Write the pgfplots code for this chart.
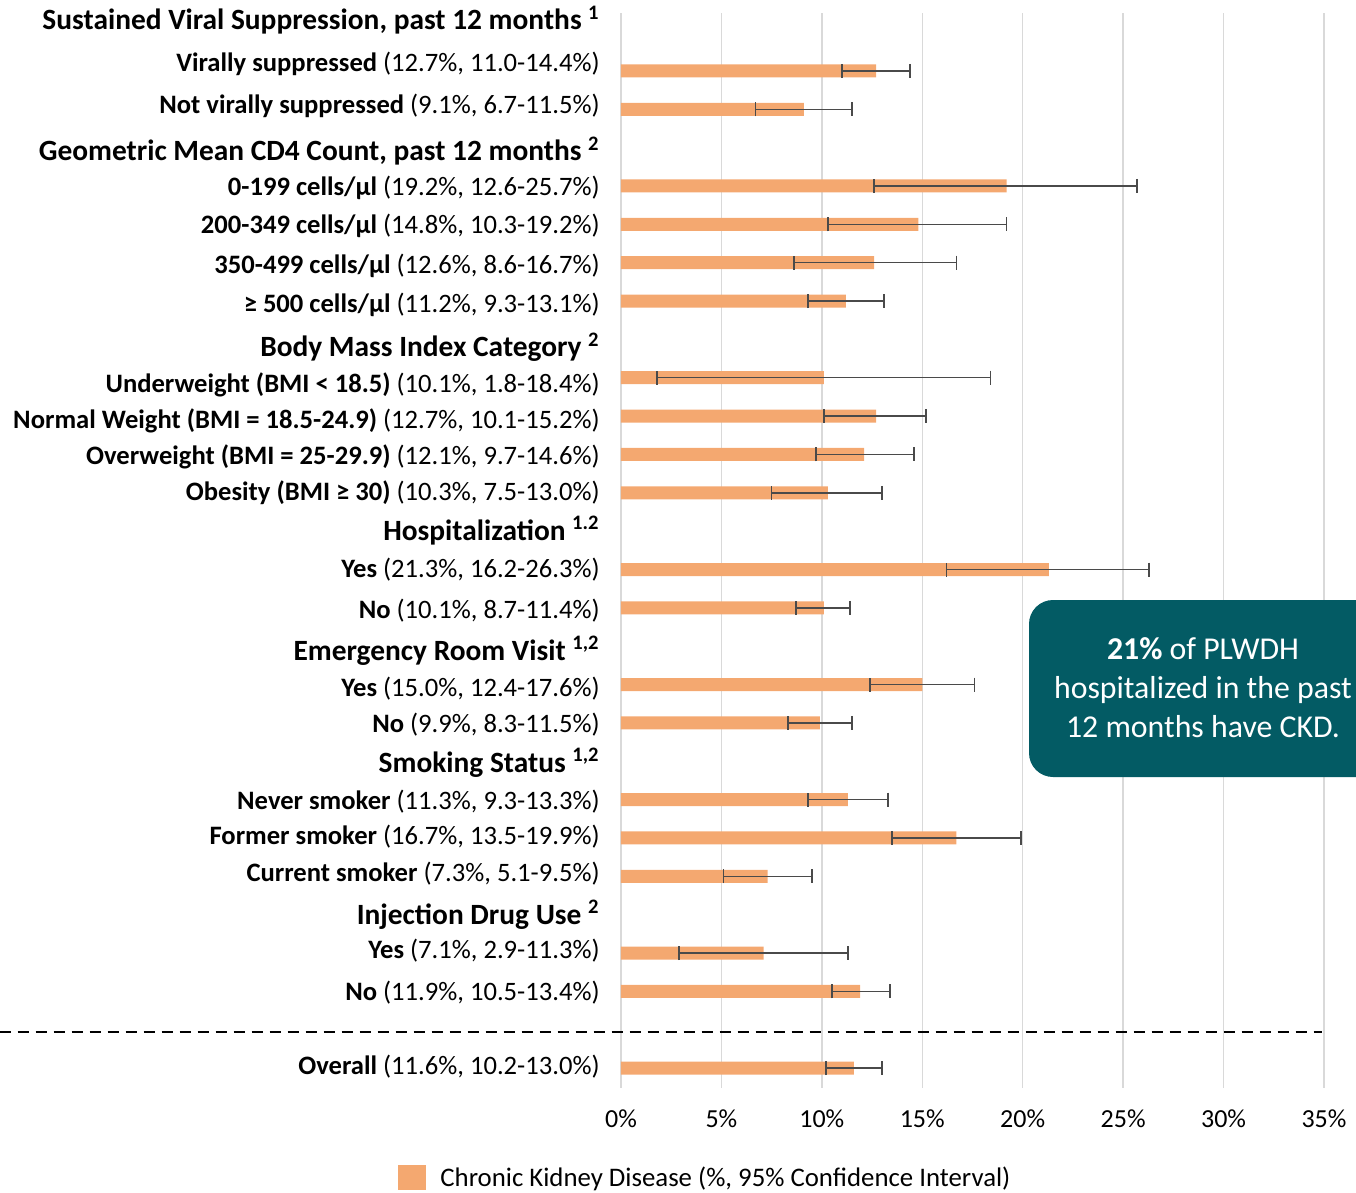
\documentclass[border=0pt]{standalone}
\usepackage{fontspec}
\setmainfont{Carlito}
\usepackage{pgfplots}
\pgfplotsset{compat=1.18}
\usepackage{pgfplotstable}

\definecolor{ckd}{HTML}{F4A870}
\definecolor{errc}{HTML}{4A4A4A}
\definecolor{boxc}{HTML}{035B64}
\definecolor{gridc}{HTML}{D9D9D9}

% row position, estimate, distance to lower and upper CI bound
\pgfplotstableread{
pos val em ep
0  12.7 1.7 1.7
1  9.1  2.4 2.4
3  19.2 6.6 6.5
4  14.8 4.5 4.4
5  12.6 4.0 4.1
6  11.2 1.9 1.9
8  10.1 8.3 8.3
9  12.7 2.6 2.5
10 12.1 2.4 2.5
11 10.3 2.8 2.7
13 21.3 5.1 5.0
14 10.1 1.4 1.3
16 15.0 2.6 2.6
17 9.9  1.6 1.6
19 11.3 2.0 2.0
20 16.7 3.2 3.2
21 7.3  2.2 2.2
23 7.1  4.2 4.2
24 11.9 1.4 1.5
26 11.6 1.4 1.4
}\ckdtable

\newcommand{\hd}[2]{\fontsize{14.7}{14.7}\selectfont\textbf{#1 \textsuperscript{#2}}}

\begin{document}
\begin{tikzpicture}
\useasboundingbox (0,0) rectangle (678pt,-596.5pt);
\begin{axis}[
  at={(310.5pt,-544pt)}, anchor=south west,
  scale only axis, width=351.5pt, height=537.5pt,
  xmin=0, xmax=35, ymin=-1.51, ymax=26.52, y dir=reverse,
  enlargelimits=false, clip=false,
  axis line style={draw=none},
  major tick length=0pt,
  xmajorgrids, grid style={gridc, line width=0.75pt},
  xtick={0,5,...,35},
  xticklabels={0\%,5\%,10\%,15\%,20\%,25\%,30\%,35\%},
  xticklabel style={anchor=base, inner sep=0pt, yshift=-19.5pt, font=\fontsize{13}{13}\selectfont},
  yticklabel style={anchor=east, inner sep=0pt, xshift=-10.5pt, font=\fontsize{13.3}{13.3}\selectfont},
  ytick={-1.33,-0.18,0.91,2.09,3.05,4.04,5.08,6.10,7.20,8.19,9.13,10.07,11.00,11.99,13.01,14.08,15.12,16.11,17.05,18.04,19.04,19.97,20.94,22.0,22.95,24.04,25.97},
  yticklabels={
    {\hd{Sustained Viral Suppression, past 12 months}{1}},
    {\textbf{Virally suppressed} (12.7\%, 11.0-14.4\%)},
    {\textbf{Not virally suppressed} (9.1\%, 6.7-11.5\%)},
    {\hd{Geometric Mean CD4 Count, past 12 months}{2}},
    {\textbf{0-199 cells/µl} (19.2\%, 12.6-25.7\%)},
    {\textbf{200-349 cells/µl} (14.8\%, 10.3-19.2\%)},
    {\textbf{350-499 cells/µl} (12.6\%, 8.6-16.7\%)},
    {\textbf{≥ 500 cells/µl} (11.2\%, 9.3-13.1\%)},
    {\hd{Body Mass Index Category}{2}},
    {\textbf{Underweight (BMI < 18.5)} (10.1\%, 1.8-18.4\%)},
    {\textbf{Normal Weight (BMI = 18.5-24.9)} (12.7\%, 10.1-15.2\%)},
    {\textbf{Overweight (BMI = 25-29.9)} (12.1\%, 9.7-14.6\%)},
    {\textbf{Obesity (BMI ≥ 30)} (10.3\%, 7.5-13.0\%)},
    {\hd{Hospitalization}{1.2}},
    {\textbf{Yes} (21.3\%, 16.2-26.3\%)},
    {\textbf{No} (10.1\%, 8.7-11.4\%)},
    {\hd{Emergency Room Visit}{1,2}},
    {\textbf{Yes} (15.0\%, 12.4-17.6\%)},
    {\textbf{No} (9.9\%, 8.3-11.5\%)},
    {\hd{Smoking Status}{1,2}},
    {\textbf{Never smoker} (11.3\%, 9.3-13.3\%)},
    {\textbf{Former smoker} (16.7\%, 13.5-19.9\%)},
    {\textbf{Current smoker} (7.3\%, 5.1-9.5\%)},
    {\hd{Injection Drug Use}{2}},
    {\textbf{Yes} (7.1\%, 2.9-11.3\%)},
    {\textbf{No} (11.9\%, 10.5-13.4\%)},
    {\textbf{Overall} (11.6\%, 10.2-13.0\%)}},
  legend style={at={(axis description cs:-0.3172,-0.0837)}, anchor=west,
    draw=none, fill=none, inner sep=0pt, column sep=7pt,
    nodes={inner sep=0pt}, font=\fontsize{13.4}{13.4}\selectfont},
  legend image code/.code={\fill[ckd] (0pt,-6.25pt) rectangle (14pt,6.25pt);},
]
\addplot[xbar, bar width=6.5pt, draw=none, fill=ckd,
  error bars/.cd, x dir=both, x explicit, error mark=|,
  error bar style={errc, line width=0.75pt},
  error mark options={errc, mark size=3.5pt, line width=0.85pt}]
  table[x=val, y=pos, x error minus=em, x error plus=ep] {\ckdtable};
\addlegendentry{Chronic Kidney Disease (\%, 95\% Confidence Interval)}
\draw[black, line width=1pt, dash pattern=on 5.5pt off 3.5pt]
  (axis cs:-30.94,25.06) -- (axis cs:34.9,25.06);
\end{axis}
\fill[boxc, rounded corners=12pt] (514.5pt,-300pt) rectangle (700pt,-388.5pt);
\node[text=white, align=center, font=\fontsize{15.9}{19.5}\selectfont]
  at (601.5pt,-344pt) {\textbf{21\%} of PLWDH\\hospitalized in the past\\12 months have CKD.};
\end{tikzpicture}
\end{document}
